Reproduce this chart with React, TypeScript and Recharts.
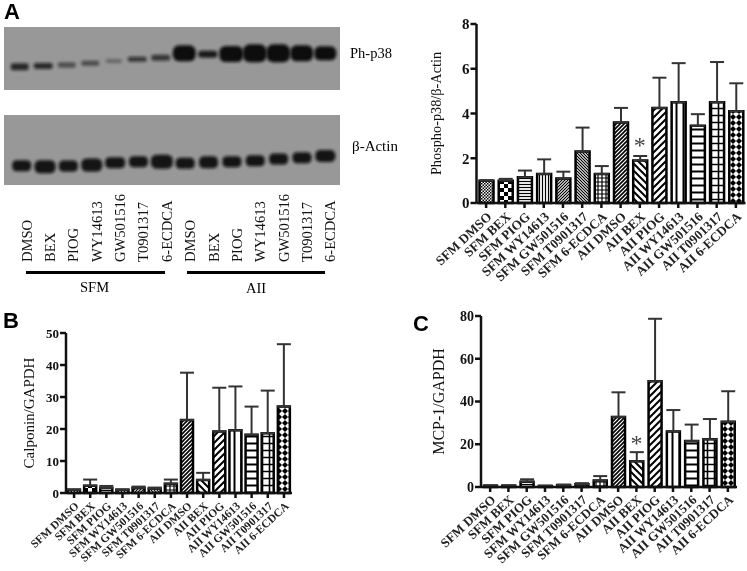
import {
  BarChart,
  Bar,
  Cell,
  ErrorBar,
  XAxis,
  YAxis,
  ReferenceDot,
  ScatterChart,
  Scatter,
} from "recharts";

const conditions = [
  "SFM DMSO", "SFM BEX", "SFM PIOG", "SFM WY14613", "SFM GW501516", "SFM T0901317", "SFM 6-ECDCA",
  "AII DMSO", "AII BEX", "AII PIOG", "AII WY14613", "AII GW501516", "AII T0901317", "AII 6-ECDCA",
];

const phosphoValues = [1.0, 1.0, 1.15, 1.3, 1.1, 2.3, 1.3, 3.6, 1.9, 4.25, 4.5, 3.45, 4.5, 4.1];
const phosphoErrors = [0.02, 0.08, 0.3, 0.65, 0.3, 1.07, 0.35, 0.65, 0.2, 1.35, 1.75, 0.52, 1.8, 1.25];
const phosphoTicks = [0, 2, 4, 6, 8];

const calponinValues = [1.0, 2.3, 1.6, 1.0, 1.6, 1.3, 2.9, 22.8, 4.1, 19.2, 19.6, 18.2, 18.7, 27];
const calponinErrors = [0.1, 1.9, 0.6, 0.1, 0.4, 0.4, 1.3, 14.8, 2.2, 13.7, 13.7, 8.8, 13.3, 19.5];
const calponinTicks = [0, 10, 20, 30, 40, 50];

const mcpValues = [0.6, 0.6, 2.5, 0.5, 0.9, 1.3, 3.0, 32.8, 12, 49.5, 26, 21.5, 22.3, 30.5];
const mcpErrors = [0.2, 0.2, 1.1, 0.1, 0.2, 0.5, 2.1, 11.5, 4.3, 29.2, 10, 7.7, 9.5, 14.3];
const mcpTicks = [0, 20, 40, 60, 80];

const laneLabels = [
  "DMSO", "BEX", "PIOG", "WY14613", "GW501516", "T0901317", "6-ECDCA",
  "DMSO", "BEX", "PIOG", "WY14613", "GW501516", "T0901317", "6-ECDCA",
];
const lanes = [0, 1, 2, 3, 4, 5, 6, 7, 8, 9, 10, 11, 12, 13];

// band readings off the blots: distance from top of gel, thickness, width, darkness
const phBandPos = [39.7, 39, 38, 36.3, 34, 32.3, 30.7, 26.3, 27.3, 27, 26.3, 26.3, 26.3, 26.3];
const phBandThick = [7, 6, 5, 5, 4, 5, 6, 16, 7, 16, 18, 18, 16, 14];
const phBandWide = [15, 16, 15, 15, 13, 16, 16, 20, 16, 21, 21, 21, 20, 19];
const phBandDark = [0.8, 0.8, 0.55, 0.55, 0.35, 0.7, 0.7, 1, 0.9, 1, 1, 1, 1, 1];

const actinBandPos = [50.7, 51.7, 51, 50, 47.7, 46.7, 46.7, 48.3, 47.3, 46.7, 45.7, 44, 42.7, 41];
const actinBandThick = [11, 13, 11, 13, 11, 11, 14, 11, 12, 11, 11, 11, 11, 12];
const actinBandWide = [16, 18, 16, 18, 17, 16, 19, 16, 16, 16, 16, 16, 16, 17];

const serif = "'Liberation Serif', serif";

function patternDefs(prefix: string) {
  const lines = (d: string, w = 1.2) => <path d={d} stroke="#000" strokeWidth={w} fill="none" />;
  const pat = (i: number, size: number, body: React.ReactNode) => (
    <pattern key={i} id={`${prefix}-${i}`} width={size} height={size} patternUnits="userSpaceOnUse">
      <rect width={size} height={size} fill="#fff" />
      {body}
    </pattern>
  );
  return (
    <defs>
      {pat(0, 3, <><rect width={1.5} height={1.5} fill="#000" /><rect x={1.5} y={1.5} width={1.5} height={1.5} fill="#000" /></>)}
      {pat(1, 8, <><rect width={4} height={4} fill="#000" /><rect x={4} y={4} width={4} height={4} fill="#000" /></>)}
      {pat(2, 3, lines("M0 1.5H3"))}
      {pat(3, 3, lines("M1.5 0V3"))}
      {pat(4, 3, lines("M0 3L3 0M-1 1L1 -1M2 4L4 2"))}
      {pat(5, 3, lines("M0 0L3 3M-1 2L1 4M2 -1L4 1"))}
      {pat(6, 4, lines("M0 2H4M2 0V4"))}
      {pat(7, 4, lines("M0 4L4 0M-1 1L1 -1M3 5L5 3", 1.6))}
      {pat(8, 7, lines("M0 0L7 7M-2 5L2 9M5 -2L9 2", 2))}
      {pat(9, 7, lines("M0 7L7 0M-2 2L2 -2M5 9L9 5", 2))}
      {pat(10, 7, lines("M3.5 0V7", 2))}
      {pat(11, 7, lines("M0 3.5H7", 2))}
      {pat(12, 7, lines("M0 3.5H7M3.5 0V7", 1.6))}
      {pat(13, 6, <><path d="M3 0L6 3L3 6L0 3Z" fill="#000" /></>)}
    </defs>
  );
}

interface PanelProps {
  id: string;
  values: number[];
  errors: number[];
  ticks: number[];
  maxY: number;
  yLabel: string;
  left: number;
  top: number;
  width: number;
  height: number;
  plotTop: number;
  axisWidth: number;
  xAxisHeight: number;
  marginRight: number;
  barSize: number;
  tickFont: number;
  xFont: number;
  xMargin: number;
  labelFont: number;
  labelDx: number;
  starAt?: number;
}

function Panel(p: PanelProps) {
  const rows = conditions.map((name, i) => ({
    name,
    value: p.values[i],
    err: [0, p.errors[i]],
  }));
  return (
    <div style={{ position: "absolute", left: p.left, top: p.top }}>
      <BarChart
        width={p.width}
        height={p.height}
        data={rows}
        margin={{ top: p.plotTop, right: p.marginRight, left: 0, bottom: 0 }}
      >
        {patternDefs(p.id)}
        <XAxis
          dataKey="name"
          interval={0}
          height={p.xAxisHeight}
          tickSize={5}
          tickMargin={p.xMargin}
          angle={-43}
          textAnchor="end"
          stroke="#111"
          strokeWidth={2.5}
          tick={{ fontFamily: serif, fontSize: p.xFont, fontWeight: 700, fill: "#222" }}
        />
        <YAxis
          domain={[0, p.maxY]}
          ticks={p.ticks}
          width={p.axisWidth}
          tickSize={6}
          tickMargin={1}
          interval={0}
          stroke="#111"
          strokeWidth={2.5}
          tick={{ fontFamily: serif, fontSize: p.tickFont, fontWeight: 700, fill: "#111" }}
          label={{
            value: p.yLabel,
            angle: -90,
            position: "insideLeft",
            dx: p.labelDx,
            style: { fontFamily: serif, fontSize: p.labelFont, fill: "#111", textAnchor: "middle" },
          }}
        />
        <Bar dataKey="value" barSize={p.barSize} stroke="#000" strokeWidth={2.5} isAnimationActive={false}>
          {rows.map((r, i) => (
            <Cell key={r.name} fill={`url(#${p.id}-${i})`} />
          ))}
          <ErrorBar dataKey="err" direction="y" width={7} stroke="#333" strokeWidth={2} isAnimationActive={false} />
        </Bar>
        {p.starAt !== undefined && (
          <ReferenceDot
            x="AII BEX"
            y={p.starAt}
            r={0}
            stroke="none"
            label={{ value: "*", position: "center", dy: 1, style: { fontFamily: serif, fontSize: 24, fill: "#444" } }}
          />
        )}
      </BarChart>
    </div>
  );
}

function BandShape(props: any) {
  const { cx, cy, payload } = props;
  const w = payload.wide;
  const h = payload.thick;
  return (
    <rect
      x={cx - w / 2 - 1.5}
      y={cy - h / 2}
      width={w + 3}
      height={h}
      rx={h / 2.5}
      fill="#0d0d0d"
      opacity={payload.dark}
      filter="url(#bandBlur)"
    />
  );
}

function LaneTick(props: any) {
  const { x, y, payload } = props;
  const yy = y + 69;
  return (
    <text
      x={x + 10}
      y={yy}
      transform={`rotate(-90, ${x + 10}, ${yy})`}
      fontFamily={serif}
      fontSize={14.6}
      fill="#111"
    >
      {laneLabels[payload.value]}
    </text>
  );
}

function Blot({ pos, thick, wide, dark, top, gelHeight, marginLeft, withLabels }: any) {
  const rows = lanes.map((lane, i) => ({
    lane,
    pos: pos[i],
    thick: thick[i],
    wide: wide[i],
    dark: dark ? dark[i] : 0.95,
  }));
  const axisH = withLabels ? 82 : 0;
  return (
    <div style={{ position: "absolute", left: 0, top }}>
      <div
        style={{
          position: "absolute",
          left: 4,
          top: 0,
          width: 336,
          height: gelHeight,
          background: "#989898",
        }}
      />
      <ScatterChart
        width={340}
        height={gelHeight + axisH}
        margin={{ top: 0, right: 3, left: marginLeft, bottom: 0 }}
      >
        <defs>
          <filter id="bandBlur" x="-30%" y="-60%" width="160%" height="220%">
            <feGaussianBlur stdDeviation="1.4" />
          </filter>
        </defs>
        <XAxis
          type="number"
          dataKey="lane"
          domain={[-0.5, 13.5]}
          ticks={lanes}
          interval={0}
          hide={!withLabels}
          height={axisH}
          axisLine={false}
          tickLine={false}
          tick={<LaneTick />}
        />
        <YAxis type="number" dataKey="pos" domain={[0, gelHeight]} reversed hide />
        <Scatter data={rows} shape={<BandShape />} isAnimationActive={false} />
      </ScatterChart>
    </div>
  );
}

function Note({ x, y, size, bold, sans, children }: any) {
  return (
    <div
      style={{
        position: "absolute",
        left: x,
        top: y,
        fontFamily: sans ? "'Liberation Sans', sans-serif" : serif,
        fontSize: size,
        fontWeight: bold ? 700 : 400,
        lineHeight: 1,
        color: "#000",
        whiteSpace: "nowrap",
      }}
    >
      {children}
    </div>
  );
}

export default function App() {
  return (
    <div style={{ position: "relative", width: 747, height: 571, background: "#fff", overflow: "hidden", filter: "blur(0.5px)" }}>
      <style>{"body{margin:0}"}</style>

      <Note x={4} y={1} size={22} bold sans>A</Note>
      <Note x={3} y={310} size={22} bold sans>B</Note>
      <Note x={413} y={313} size={22} bold sans>C</Note>

      <Blot pos={phBandPos} thick={phBandThick} wide={phBandWide} dark={phBandDark} top={27} gelHeight={63} marginLeft={8} />
      <Blot pos={actinBandPos} thick={actinBandThick} wide={actinBandWide} top={115} gelHeight={70} marginLeft={10} withLabels />

      <Note x={350} y={46} size={14.5}>Ph-p38</Note>
      <Note x={352} y={139} size={15}>β-Actin</Note>

      <div style={{ position: "absolute", left: 26, top: 270.5, width: 139, height: 3, background: "#000" }} />
      <div style={{ position: "absolute", left: 187, top: 270.5, width: 138, height: 3, background: "#000" }} />
      <Note x={80} y={280} size={14.5}>SFM</Note>
      <Note x={246} y={281} size={14.5}>AII</Note>

      <Panel
        id="pa" values={phosphoValues} errors={phosphoErrors} ticks={phosphoTicks} maxY={8}
        yLabel="Phospho-p38/β-Actin" left={400} top={0} width={347} height={300} plotTop={24}
        axisWidth={76.5} xAxisHeight={97} marginRight={1.5} barSize={14}
        tickFont={15} xFont={13.2} xMargin={3} labelFont={14.3} labelDx={31} starAt={2.68}
      />
      <Panel
        id="pb" values={calponinValues} errors={calponinErrors} ticks={calponinTicks} maxY={50}
        yLabel="Calponin/GAPDH" left={0} top={300} width={300} height={271} plotTop={33}
        axisWidth={66} xAxisHeight={78} marginRight={8} barSize={12}
        tickFont={13} xFont={11.4} xMargin={3} labelFont={15} labelDx={24}
      />
      <Panel
        id="pc" values={mcpValues} errors={mcpErrors} ticks={mcpTicks} maxY={80}
        yLabel="MCP-1/GAPDH" left={410} top={300} width={337} height={271} plotTop={16}
        axisWidth={71} xAxisHeight={84} marginRight={10} barSize={13}
        tickFont={14} xFont={13} xMargin={2} labelFont={16} labelDx={23} starAt={21.5}
      />
    </div>
  );
}
